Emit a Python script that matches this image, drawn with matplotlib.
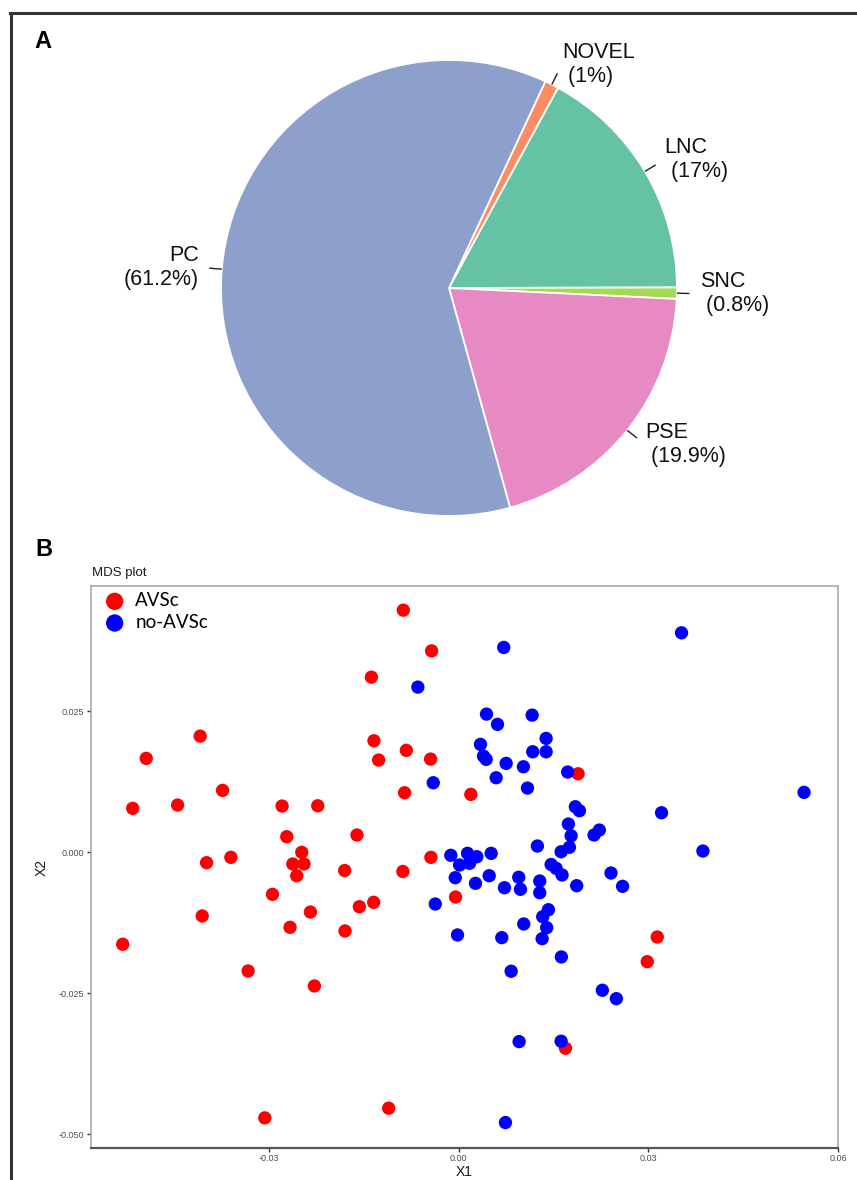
import numpy as np
import matplotlib
matplotlib.use("Agg")
import matplotlib.pyplot as plt
from matplotlib.lines import Line2D

plt.rcParams['font.family'] = ['Liberation Sans', 'DejaVu Sans']

# ---------------- Panel A data ----------------
pie_labels = ["NOVEL", "LNC", "SNC", "PSE", "PC"]
pie_pct = [1.0, 17.0, 0.8, 19.9, 61.2]
pie_colors = ["#FC8D62", "#66C2A5", "#A6D854", "#E78AC3", "#8DA0CB"]

# ---------------- Panel B data ----------------
avsc_x = [-0.01378, -0.04085, -0.01337, -0.04938, -0.01263, -0.03731, -0.05152, -0.04442, -0.0279, -0.02226,
          -0.02716, -0.01606, -0.02479, -0.036, -0.03984, -0.02621, -0.02443, -0.018, -0.02558, -0.02942,
          -0.04053, -0.02342, -0.01568, -0.01342, -0.02664, -0.01795, -0.0531, -0.03327, -0.02279, -0.03063,
          -0.01105, -0.00873, -0.00426, 0.0189, -0.00826, -0.00442, -0.00853, 0.00194, -0.00437, -0.0088,
          -0.00047, 0.0169, 0.03142, 0.02984]
avsc_y = [0.03108, 0.02062, 0.01979, 0.01667, 0.01637, 0.01099, 0.0078, 0.00839, 0.00821, 0.00826,
          0.00277, 0.00307, 0.0, -0.00089, -0.00184, -0.00207, -0.00207, -0.00323, -0.00415, -0.00745,
          -0.01129, -0.01059, -0.00965, -0.00887, -0.0133, -0.01395, -0.01631, -0.02105, -0.02371, -0.04711,
          -0.04539, 0.04296, 0.03574, 0.01394, 0.01809, 0.01654, 0.01057, 0.01028, -0.00089, -0.0034,
          -0.00793, -0.03475, -0.01502, -0.0194]

noavsc_x = [0.00715, -0.00643, 0.00442, 0.01164, 0.00616, 0.00347, 0.01385, 0.01173, 0.01385, 0.00395,
            0.00437, 0.00753, 0.01026, 0.00595, 0.0109, 0.01726, -0.004, 0.01847, 0.01911, 0.01737,
            0.0178, 0.02143, 0.02226, 0.01247, 0.01753, 0.01622, -0.00122, 0.00142, 0.00289, 0.00516,
            0.00016, 0.00174, 0.01464, 0.01543, 0.02411, 0.01637, -0.00052, 0.00268, 0.00485, 0.00726,
            0.00952, 0.00979, 0.01284, 0.01284, 0.01868, 0.02594, -0.00368, 0.01421, 0.01331, 0.01031,
            0.01394, -0.00016, 0.00684, 0.01322, 0.01626, 0.00832, 0.02274, 0.02495, 0.00958, 0.01622,
            0.00742, 0.03526, 0.05463, 0.0321, 0.03864]
noavsc_y = [0.03635, 0.02931, 0.02452, 0.02434, 0.0227, 0.01915, 0.02021, 0.01784, 0.01784, 0.01707,
            0.01649, 0.01578, 0.01518, 0.01323, 0.0114, 0.01424, 0.01234, 0.00809, 0.00738, 0.00502,
            0.00294, 0.00307, 0.00395, 0.00112, 0.00089, 0.0001, -0.00053, -0.00018, -0.00078, -0.00018,
            -0.00225, -0.00195, -0.00216, -0.00284, -0.00367, -0.00402, -0.0045, -0.0055, -0.00415, -0.00628,
            -0.00443, -0.00656, -0.00509, -0.00716, -0.00592, -0.00603, -0.00917, -0.01018, -0.01142, -0.01271,
            -0.01337, -0.01466, -0.01514, -0.01532, -0.01856, -0.0211, -0.02447, -0.02596, -0.03358, -0.03351,
            -0.04794, 0.03894, 0.01064, 0.00702, 0.00023]

group_names = ["AVSc", "no-AVSc"]
group_colors = ["#FF0000", "#0000FF"]
x_ticks = [-0.03, 0.0, 0.03, 0.06]
y_ticks = [-0.05, -0.025, 0.0, 0.025]

# ---------------- Figure ----------------
W, H = 857, 1180
fig = plt.figure(figsize=(W / 100, H / 100), dpi=100)


def px_box(l, t, r, b):
    return [l / W, 1 - b / H, (r - l) / W, (b - t) / H]


# ---- Panel A: pie ----
R = 228.0
cx, cy = 449.0, 288.0
xl = (-1.9, 1.6)
yl = (-1.2, 1.2)
ax_pie = fig.add_axes(px_box(cx + xl[0] * R, cy - yl[1] * R, cx + xl[1] * R, cy - yl[0] * R))
wedges, _ = ax_pie.pie(pie_pct, colors=pie_colors, startangle=65, counterclock=False,
                       wedgeprops=dict(edgecolor='white', linewidth=1.3))
for w, lab, p in zip(wedges, pie_labels, pie_pct):
    th = np.deg2rad((w.theta1 + w.theta2) / 2.0)
    ux, uy = np.cos(th), np.sin(th)
    ax_pie.plot([ux * 1.0, ux * 1.055], [uy * 1.0, uy * 1.055], color='#222222', lw=1.0,
                solid_capstyle='butt')
    if ux > 0:
        txt = f"{lab}\n ({p:g}%)"
        ha = 'left'
    else:
        txt = f"{lab}\n({p:g}%)"
        ha = 'right'
    ax_pie.text(ux * 1.1, uy * 1.1, txt, ha=ha, va='center', fontsize=15.5,
                color='#111111', linespacing=1.2)
ax_pie.set_xlim(*xl)
ax_pie.set_ylim(*yl)
ax_pie.set_aspect('auto')
ax_pie.axis('off')

# ---- Panel B: MDS scatter ----
L, T, Rr, B = 90.7, 585.7, 838.0, 1147.7
ax = fig.add_axes(px_box(L, T, Rr, B))
ax.scatter(avsc_x, avsc_y, s=92, color=group_colors[0], edgecolors='none', label=group_names[0], zorder=3)
ax.scatter(noavsc_x, noavsc_y, s=92, color=group_colors[1], edgecolors='none', label=group_names[1], zorder=3)
ax.set_xlim(-0.05816, 0.05985)
ax.set_ylim(-0.0524, 0.0473)
ax.set_xticks(x_ticks)
ax.set_yticks(y_ticks)
ax.set_xticklabels([f"{v:.2f}" for v in x_ticks])
ax.set_yticklabels([f"{v:.3f}" for v in y_ticks])
ax.tick_params(direction='out', length=3, width=1, color='#333333', labelsize=6.5,
               labelcolor='#4D4D4D', pad=1.5)
for side in ['top', 'right', 'left']:
    ax.spines[side].set_color('#A8A8A8')
    ax.spines[side].set_linewidth(1.2)
ax.spines['bottom'].set_color('#555555')
ax.spines['bottom'].set_linewidth(1.6)

leg = ax.legend(loc='upper left', bbox_to_anchor=(0.012, 0.995), frameon=False,
                prop=dict(family='Lato', size=13.5), handletextpad=0.5, labelspacing=0.25,
                borderaxespad=0, borderpad=0.2, handlelength=1.2, markerscale=1.3)

fig.text(92 / W, 1 - 573 / H, "MDS plot", ha='left', va='center', fontsize=9.5, color='#1A1A1A')
fig.text(464 / W, 1 - 1172 / H, "X1", ha='center', va='center', fontsize=10, color='#1A1A1A')
fig.text(42 / W, 1 - 867 / H, "X2", ha='center', va='center', rotation=90, fontsize=10, color='#1A1A1A')

# panel letters
fig.text(34 / W, 1 - 41 / H, "A", ha='left', va='center', fontsize=17, fontweight='bold')
fig.text(35 / W, 1 - 549 / H, "B", ha='left', va='center', fontsize=17, fontweight='bold')

# outer frame lines (top and left)
fig.add_artist(Line2D([10 / W, 1.0], [1 - 13 / H, 1 - 13 / H], transform=fig.transFigure,
                      color='#333333', lw=2.2))
fig.add_artist(Line2D([11 / W, 11 / W], [0.0, 1 - 13 / H], transform=fig.transFigure,
                      color='#333333', lw=2.2))

fig.savefig("out.png", dpi=100)
